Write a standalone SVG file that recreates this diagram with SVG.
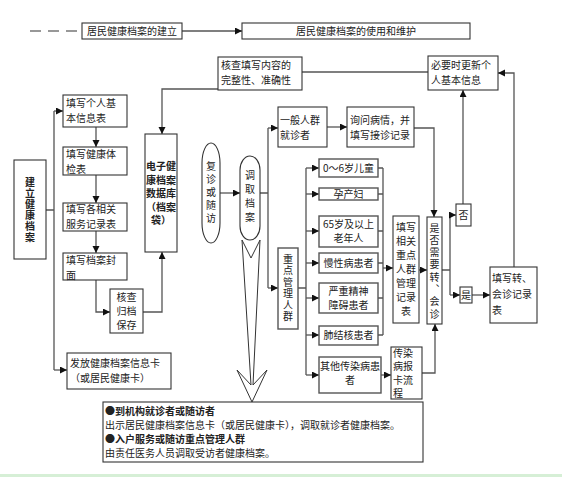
<svg xmlns="http://www.w3.org/2000/svg" width="562" height="477" viewBox="0 0 562 477">
<defs>
<marker id="ah" markerUnits="userSpaceOnUse" markerWidth="8" markerHeight="8" refX="7" refY="3.5" orient="auto">
<path d="M0,0 L7,3.5 L0,7 z" fill="#111"/>
</marker>
<style>
.b{fill:#fff;stroke:#333;stroke-width:1.1}
.g{fill:#fff;stroke:#555;stroke-width:1.4}
.t{font-family:"Noto Sans CJK SC","Noto Sans",sans-serif;font-size:10px;fill:#222}
.c{text-anchor:middle}
.v{writing-mode:vertical-rl;text-anchor:middle}
.l{fill:none;stroke:#555;stroke-width:1.3}
.a{fill:none;stroke:#555;stroke-width:1.3;marker-end:url(#ah)}
</style>
</defs>
<rect width="562" height="477" fill="#fff"/>
<rect x="0" y="474" width="562" height="3" fill="#d6efd6"/>

<g id="connectors">
<line x1="30" y1="31" x2="81" y2="31" stroke="#777" stroke-width="1.6" stroke-dasharray="11,7"/>
<path class="a" d="M182,31 H242"/>
<path class="l" d="M302,72 H428"/>
<path class="a" d="M218,89 H162 V134"/>
<path class="l" d="M46,210 H54 M54,111 V370"/>
<path class="a" d="M54,111 H63"/>
<path class="a" d="M54,370 H67"/>
<path class="a" d="M96,127 V147"/>
<path class="a" d="M96,175 V203"/>
<path class="a" d="M96,231 V253"/>
<path class="a" d="M96,280 V312 H110"/>
<path class="a" d="M143,312 H162 V252"/>
<path class="a" d="M220,193 H240"/>
<path class="l" d="M260,193 H268 M268,128 V288"/>
<path class="a" d="M268,128 H278"/>
<path class="a" d="M268,288 H278"/>
<path class="a" d="M327,127 H347"/>
<path class="a" d="M414,128 H434 V217"/>
<path class="l" d="M298,288 H306 M306,168 V375"/>
<path class="a" d="M306,168 H319"/>
<path class="a" d="M306,194 H319"/>
<path class="a" d="M306,231 H319"/>
<path class="a" d="M306,263 H319"/>
<path class="a" d="M306,298 H319"/>
<path class="a" d="M306,335 H319"/>
<path class="a" d="M306,375 H319"/>
<path class="l" d="M378,168 H383 M378,194 H383 M378,231 H383 M378,263 H383 M378,298 H383 M378,335 H383 M383,168 V335"/>
<path class="a" d="M383,268 H393"/>
<path class="a" d="M381,375 H391"/>
<path class="a" d="M419,270 H427"/>
<path class="a" d="M422,373 H435 V324"/>
<path class="l" d="M442,270 H450 M450,215 V295"/>
<path class="a" d="M450,215 H456"/>
<path class="a" d="M450,295 H460"/>
<path class="a" d="M472,295 H490"/>
<path class="a" d="M463,204 V90"/>
<path class="a" d="M514,267 V73 H498"/>
<polygon points="242,240 251,258 260,240 253,385 267,370 252,402 237,370 251,385" fill="#fff" stroke="#333" stroke-width="1"/>
</g>

<g id="title1"><rect class="b" x="82" y="23" width="100" height="16"/><text class="t c" x="132" y="35" font-size="10.3">居民健康档案的建立</text></g>
<g id="title2"><rect class="b" x="242" y="23" width="228" height="16"/><text class="t c" x="356" y="35" font-size="10.3">居民健康档案的使用和维护</text></g>
<g id="check"><rect class="b" x="218" y="57" width="84" height="33"/><text class="t" x="221" y="69">核查填写内容的</text><text class="t" x="221" y="84">完整性、准确性</text></g>
<g id="update"><rect class="b" x="428" y="56" width="70" height="34"/><text class="t" x="431" y="69">必要时更新个</text><text class="t" x="431" y="84">人基本信息</text></g>
<g id="build"><rect class="b" x="14" y="160" width="32" height="99"/>
<text class="t v" x="30" y="210" font-size="12" font-weight="bold" letter-spacing="1">建立健康档案</text></g>
<g id="n1"><rect class="b" x="63" y="95" width="64" height="32"/><text class="t" x="66" y="107">填写个人基</text><text class="t" x="66" y="122">本信息表</text></g>
<g id="n2"><rect class="b" x="63" y="147" width="64" height="28"/><text class="t" x="66" y="158">填写健康体</text><text class="t" x="66" y="172.6">检表</text></g>
<g id="n3"><rect class="b" x="63" y="203" width="64" height="28"/><text class="t" x="66" y="213">填写各相关</text><text class="t" x="66" y="228">服务记录表</text></g>
<g id="n4"><rect class="b" x="63" y="253" width="64" height="27"/><text class="t" x="66" y="264">填写档案封</text><text class="t" x="66" y="278.6">面</text></g>
<g id="archive"><rect class="b" x="110" y="289" width="33" height="44"/><text class="t c" x="126.5" y="301" font-size="9.3">核查</text><text class="t c" x="126.5" y="315" font-size="9.3">归档</text><text class="t c" x="126.5" y="329" font-size="9.3">保存</text></g>
<g id="db"><rect class="b" x="145" y="134" width="32" height="118"/>
<text class="t c" x="161" y="170" font-weight="bold" font-size="8.8">电子健</text>
<text class="t c" x="161" y="183.5" font-weight="bold" font-size="8.8">康档案</text>
<text class="t c" x="161" y="197" font-weight="bold" font-size="8.8">数据库</text>
<text class="t c" x="161" y="210.5" font-weight="bold" font-size="8.8">（档案</text>
<text class="t c" x="161" y="224" font-weight="bold" font-size="8.8">袋）</text></g>
<g id="card"><rect class="b" x="67" y="353" width="104" height="36"/><text class="t" x="70" y="367">发放健康档案信息卡</text><text class="t" x="70" y="382">（或居民健康卡）</text></g>
<g id="revisit"><rect class="b" x="202" y="143" width="18" height="100" rx="9" ry="20"/>
<text class="t v" x="211" y="194" font-size="13" letter-spacing="3">复诊或随访</text></g>
<g id="fetch"><rect class="b" x="240" y="156" width="20" height="84" rx="10" ry="14"/>
<text class="t v" x="250" y="198" font-size="10" letter-spacing="4">调取档案</text></g>
<g id="general"><rect class="b" x="278" y="107" width="49" height="40"/><text class="t" x="280" y="124">一般人群</text><text class="t" x="280" y="139">就诊者</text></g>
<g id="ask"><rect class="b" x="347" y="107" width="67" height="40"/><text class="t" x="350" y="124">询问病情，并</text><text class="t" x="350" y="139">填写接诊记录</text></g>
<g id="key"><rect class="g" x="278" y="248" width="20" height="81"/>
<text class="t v" x="288" y="288.5" font-size="11.5" letter-spacing="1.5">重点管理人群</text></g>
<g id="g1"><rect class="g" x="319" y="159" width="59" height="18"/><text class="t c" x="348.5" y="171.5" font-size="9.5">0～6岁儿童</text></g>
<g id="g2"><rect class="g" x="319" y="188" width="59" height="12"/><text class="t c" x="348.5" y="197.5" font-size="9.5">孕产妇</text></g>
<g id="g3"><rect class="g" x="319" y="216" width="59" height="31"/><text class="t c" x="348.5" y="228" font-size="9.3">65岁及以上</text><text class="t c" x="348.5" y="242" font-size="9.3">老年人</text></g>
<g id="g4"><rect class="g" x="319" y="253" width="59" height="20"/><text class="t c" x="348.5" y="266.5" font-size="9.5">慢性病患者</text></g>
<g id="g5"><rect class="g" x="319" y="283" width="59" height="30"/><text class="t c" x="348.5" y="295" font-size="9.3">严重精神</text><text class="t c" x="348.5" y="309" font-size="9.3">障碍患者</text></g>
<g id="g6"><rect class="g" x="319" y="326" width="59" height="19"/><text class="t c" x="348.5" y="338.5" font-size="9.5">肺结核患者</text></g>
<g id="g7"><rect class="g" x="319" y="357" width="62" height="36"/><text class="t c" x="350" y="370" font-size="9.3">其他传染病患</text><text class="t c" x="350" y="384" font-size="9.3">者</text></g>
<g id="keyrec"><rect class="b" x="393" y="216" width="26" height="107"/>
<text class="t c" x="406" y="231" font-size="9.2">填写</text>
<text class="t c" x="406" y="245" font-size="9.2">相关</text>
<text class="t c" x="406" y="259" font-size="9.2">重点</text>
<text class="t c" x="406" y="273" font-size="9.2">人群</text>
<text class="t c" x="406" y="287" font-size="9.2">管理</text>
<text class="t c" x="406" y="301" font-size="9.2">记录</text>
<text class="t c" x="406" y="315" font-size="9.2">表</text></g>
<g id="report"><rect class="b" x="391" y="347" width="31" height="52"/>
<text class="t" x="393" y="356.5" font-size="8.2">传染</text>
<text class="t" x="393" y="370" font-size="8.2">病报</text>
<text class="t" x="393" y="383.5" font-size="8.2">卡流</text>
<text class="t" x="393" y="397" font-size="8.2">程</text></g>
<g id="decide"><rect class="b" x="427" y="217" width="15" height="107"/>
<text class="t v" x="434.5" y="272" font-size="11" letter-spacing="2.3">是否需要转、会诊</text></g>
<g id="no"><rect class="b" x="456" y="204" width="15" height="22"/><text class="t c" x="463.5" y="219" font-size="11">否</text></g>
<g id="yes"><rect class="b" x="460" y="287" width="12" height="16"/><text class="t c" x="466" y="298.5" font-size="10">是</text></g>
<g id="referral"><rect class="b" x="490" y="267" width="47" height="56"/><text class="t" x="492" y="282">填写转、</text><text class="t" x="492" y="298">会诊记录</text><text class="t" x="492" y="314">表</text></g>
<g id="note"><rect class="b" x="103" y="402" width="320" height="60"/>
<text class="t" x="105" y="414.5" font-size="9.3" font-weight="bold">●到机构就诊者或随访者</text>
<text class="t" x="105" y="428.5" font-size="9.3">出示居民健康档案信息卡（或居民健康卡），调取就诊者健康档案。</text>
<text class="t" x="105" y="442.5" font-size="9.3" font-weight="bold">●入户服务或随访重点管理人群</text>
<text class="t" x="105" y="456.5" font-size="9.3">由责任医务人员调取受访者健康档案。</text></g>
</svg>
